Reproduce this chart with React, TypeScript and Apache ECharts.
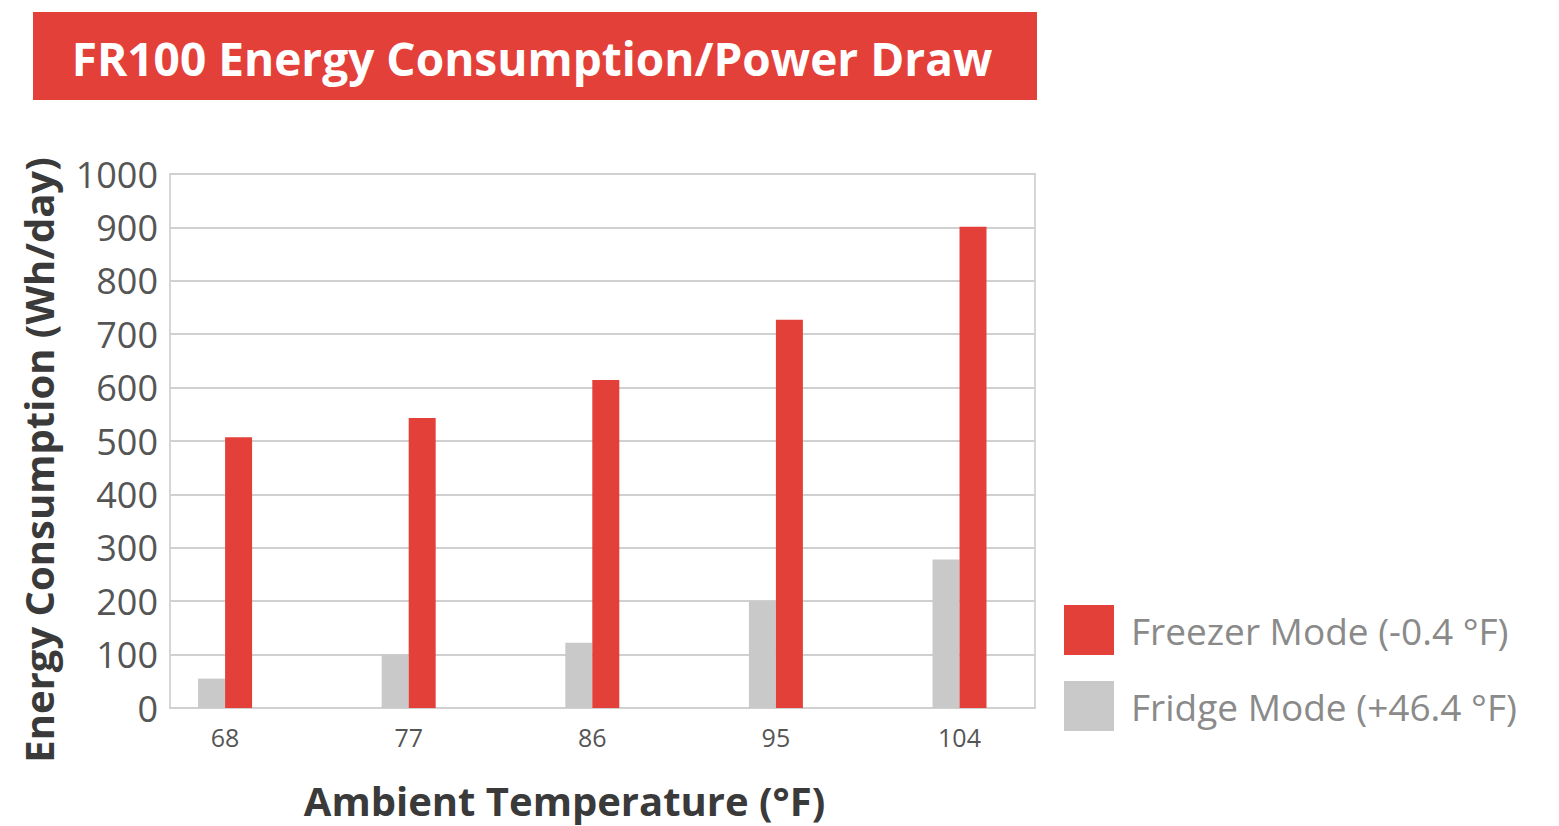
import React, { useEffect, useRef } from "react";
import * as echarts from "echarts";

const titleText = "FR100 Energy Consumption/Power Draw";
const temperatures = [68, 77, 86, 95, 104];
const freezerValues = [507, 543, 614, 727, 901];
const fridgeValues = [55, 100, 122, 200, 278];
const freezerName = "Freezer Mode (-0.4 °F)";
const fridgeName = "Fridge Mode (+46.4 °F)";
const xAxisName = "Ambient Temperature (°F)";
const yAxisName = "Energy Consumption (Wh/day)";

const RED = "#E4403A";
const GRAY = "#C9C9C9";
const FONT = "'Open Sans', 'Noto Sans', sans-serif";

export default function App() {
  const ref = useRef<HTMLDivElement>(null);
  useEffect(() => {
    document.body.style.margin = "0";
    const chart = echarts.init(ref.current!, null, { renderer: "svg" });
    chart.setOption({
      animation: false,
      backgroundColor: "#ffffff",
      graphic: [
        {
          type: "rect",
          shape: { x: 33, y: 12, width: 1004, height: 88 },
          style: { fill: RED },
          silent: true,
        },
        {
          type: "text",
          x: 532,
          y: 58,
          style: {
            text: titleText,
            fill: "#ffffff",
            font: `bold 46px ${FONT}`,
            align: "center",
            verticalAlign: "middle",
          },
        },
      ],
      legend: {
        orient: "vertical",
        left: 1059,
        top: 600,
        itemWidth: 50,
        itemHeight: 50,
        itemGap: 26,
        icon: "rect",
        data: [freezerName, fridgeName],
        textStyle: { fontSize: 37, color: "#8a8a8a", fontFamily: FONT, padding: [0, 0, 0, 12] },
      },
      grid: {
        left: 170,
        right: 524,
        top: 174,
        bottom: 118,
        show: true,
        borderColor: "#d6d6d6",
        borderWidth: 2,
      },
      xAxis: {
        type: "value",
        min: 65.3,
        max: 107.7,
        name: xAxisName,
        nameLocation: "middle",
        nameGap: 72,
        nameTextStyle: {
          fontSize: 40,
          fontWeight: "bold",
          color: "#3a3a3a",
          fontFamily: FONT,
          padding: [0, 76, 0, 0],
        },
        axisLine: { show: true, lineStyle: { color: "#d0d0d0", width: 2 } },
        axisTick: { show: false },
        splitLine: { show: false },
        axisLabel: {
          customValues: temperatures,
          margin: 16,
          fontSize: 25,
          color: "#555555",
          fontFamily: FONT,
        },
      },
      yAxis: {
        type: "value",
        min: 0,
        max: 1000,
        interval: 100,
        name: yAxisName,
        nameLocation: "middle",
        nameRotate: 90,
        nameGap: 112,
        nameTextStyle: {
          fontSize: 40,
          fontWeight: "bold",
          color: "#3a3a3a",
          fontFamily: FONT,
          padding: [0, 38, 0, 0],
        },
        axisLine: { show: false },
        axisTick: { show: false },
        splitLine: { lineStyle: { color: "#d0d0d0", width: 2 } },
        axisLabel: {
          margin: 12,
          fontSize: 36,
          color: "#555555",
          fontFamily: FONT,
          formatter: (v: number) => String(v),
        },
      },
      series: [
        {
          name: fridgeName,
          type: "bar",
          barWidth: 27,
          barGap: "0%",
          itemStyle: { color: GRAY },
          data: temperatures.map((t, i) => [t, fridgeValues[i]]),
        },
        {
          name: freezerName,
          type: "bar",
          barWidth: 27,
          barGap: "0%",
          itemStyle: { color: RED },
          data: temperatures.map((t, i) => [t, freezerValues[i]]),
        },
      ],
    });
    return () => chart.dispose();
  }, []);
  return <div ref={ref} style={{ width: 1559, height: 826 }} />;
}
